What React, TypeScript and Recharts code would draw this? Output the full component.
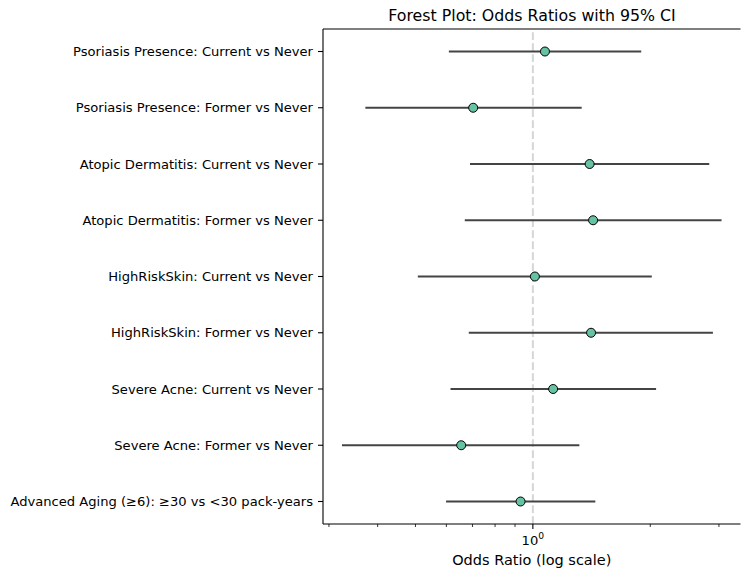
import React from 'react';
import {
  ComposedChart, Scatter, ErrorBar, XAxis, YAxis, ReferenceLine,
} from 'recharts';

const comparisons = [
  'Psoriasis Presence: Current vs Never',
  'Psoriasis Presence: Former vs Never',
  'Atopic Dermatitis: Current vs Never',
  'Atopic Dermatitis: Former vs Never',
  'HighRiskSkin: Current vs Never',
  'HighRiskSkin: Former vs Never',
  'Severe Acne: Current vs Never',
  'Severe Acne: Former vs Never',
  'Advanced Aging (≥6): ≥30 vs <30 pack-years',
];
const oddsRatios = [1.074, 0.703, 1.398, 1.427, 1.012, 1.41, 1.127, 0.655, 0.93];
const ciLower = [0.609, 0.372, 0.69, 0.669, 0.507, 0.685, 0.615, 0.324, 0.599];
const ciUpper = [1.896, 1.334, 2.833, 3.046, 2.018, 2.895, 2.07, 1.316, 1.446];
const xTicks = [0.3, 0.4, 0.5, 0.6, 0.7, 0.8, 0.9, 1, 2, 3];

const rows = comparisons.map((label, i) => ({
  label,
  idx: i,
  or: oddsRatios[i],
  err: [oddsRatios[i] - ciLower[i], ciUpper[i] - oddsRatios[i]],
}));

// autoscale like matplotlib: 5% padding in log space
const logMin = Math.log10(Math.min(...ciLower));
const logMax = Math.log10(Math.max(...ciUpper));
const pad = (logMax - logMin) * 0.05;
const xDomain = [10 ** (logMin - pad), 10 ** (logMax + pad)];
const yDomain = [-0.4, comparisons.length - 1 + 0.4];

const FONT = '"DejaVu Sans", sans-serif';
const TICK_SIZE = 13.1;

const LogTick = (props: any) => {
  const { x, y, payload } = props;
  const major = payload.value === 1;
  return (
    <g>
      <line x1={x} y1={y} x2={x} y2={y + (major ? 5 : 3)} stroke="#000" strokeWidth={major ? 1.1 : 0.8} />
      {major && (
        <text x={x} y={y + 21} textAnchor="middle" fontSize={TICK_SIZE} fill="#000" fontFamily={FONT}>
          10<tspan dy={-6} fontSize={9.2}>0</tspan>
        </text>
      )}
    </g>
  );
};

const Dot = (props: any) => (
  <circle cx={props.cx} cy={props.cy} r={4.5} fill="#66c2a5" stroke="#000" strokeWidth={1} />
);

export default function App() {
  return (
    <div style={{ position: 'relative', width: 742, height: 569, fontFamily: FONT }}>
      <div
        style={{
          position: 'absolute', left: 315, width: 418, top: 0, textAlign: 'center',
          fontSize: 15.8, lineHeight: 1, color: '#000',
        }}
      >
        Forest Plot: Odds Ratios with 95% CI
      </div>
      <ComposedChart width={742} height={569} data={rows} margin={{ top: 21, right: 9.5, bottom: 0, left: 0 }}>
        <XAxis
          type="number" dataKey="or" scale="log" domain={xDomain} allowDataOverflow
          ticks={xTicks} interval={0} tickSize={0} tickMargin={0} tickLine={false}
          tick={<LogTick />} height={53} axisLine={{ stroke: '#000', strokeWidth: 1.1 }}
          label={{ value: 'Odds Ratio (log scale)', position: 'insideBottom', offset: 12, fontSize: 14.5, fill: '#000', fontFamily: FONT }}
        />
        <YAxis
          type="number" dataKey="idx" domain={yDomain} reversed allowDataOverflow
          ticks={comparisons.map((_, i) => i)} interval={0} width={315}
          tickFormatter={(i: number) => comparisons[i]} tickSize={5} tickMargin={5}
          tick={{ fontSize: TICK_SIZE, fill: '#000', fontFamily: FONT }}
          tickLine={{ stroke: '#000', strokeWidth: 1.1 }} axisLine={{ stroke: '#000', strokeWidth: 1.1 }}
        />
        <YAxis
          yAxisId="right" orientation="right" type="number" domain={yDomain}
          width={0} tick={false} tickLine={false} axisLine={{ stroke: '#000', strokeWidth: 1.1 }}
        />
        {/* top spine */}
        <ReferenceLine y={yDomain[0]} stroke="#000" strokeWidth={1.1} />
        <ReferenceLine x={1} stroke="#d3d6da" strokeWidth={2} strokeDasharray="7.7 3.3" />
        <Scatter data={rows} dataKey="or" shape={<Dot />} isAnimationActive={false}>
          <ErrorBar dataKey="err" direction="x" width={0} stroke="#444" strokeWidth={2} isAnimationActive={false} />
        </Scatter>
      </ComposedChart>
    </div>
  );
}
